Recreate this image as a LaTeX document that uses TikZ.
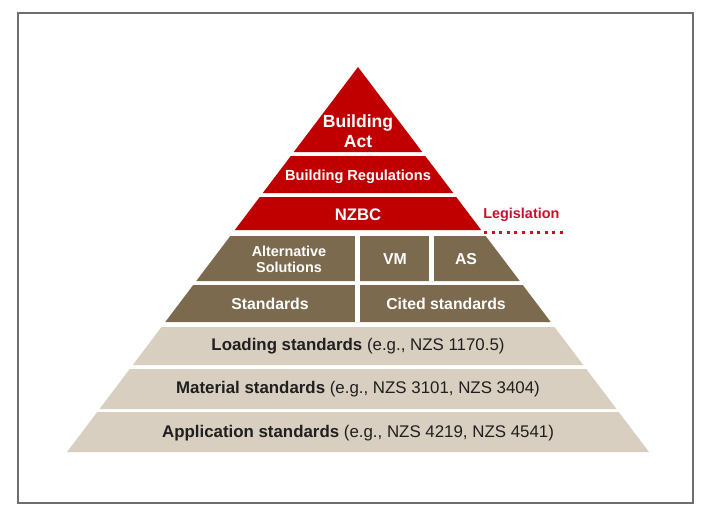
\documentclass[tikz,border=0pt]{standalone}
\usepackage{fontspec}
\setmainfont{Liberation Sans}
\definecolor{actred}{HTML}{C00000}
\definecolor{legred}{HTML}{C8102E}
\definecolor{docbrown}{HTML}{7B6A4E}
\definecolor{stdbeige}{HTML}{D8CFC0}
\definecolor{framegrey}{HTML}{6E6E6E}
\begin{document}
\begin{tikzpicture}[x=0.02cm,y=-0.02cm,
font=\fontsize{9}{11}\selectfont,
lbl/.style={text=white,font=\fontsize{9}{10}\selectfont\bfseries,align=center,inner sep=0pt},
std/.style={text=black!88,font=\fontsize{9.6}{11}\selectfont,inner sep=0pt},
gap/.style={draw=white,line width=0.1cm}]
\useasboundingbox (0,0) rectangle (710,522);
\fill[white] (0,0) rectangle (710,522);
\draw[framegrey,line width=0.04cm] (18,13) rectangle (693,503);
% pyramid bands: colour/top/bottom
\def\k{0.7558}
\foreach \col/\yt/\yb in {actred/67/152,actred/156/193,actred/197/230,
  docbrown/236/281,docbrown/285/322,stdbeige/327/365,stdbeige/369/409,stdbeige/412/452}
  \fill[\col] ({358-\k*(\yt-67)},\yt) -- ({358+\k*(\yt-67)},\yt)
    -- ({358+\k*(\yb-67)},\yb) -- ({358-\k*(\yb-67)},\yb) -- cycle;
\draw[gap] (357.5,236) -- (357.5,322);
\draw[gap] (431.5,236) -- (431.5,281);
\node[lbl,font=\fontsize{10}{11.4}\selectfont\bfseries] (act) at (358,131) {Building\\Act};
\node[lbl,font=\fontsize{8.3}{10}\selectfont\bfseries] (regs) at (358,177) {Building Regulations};
\node[lbl,font=\fontsize{9.5}{11}\selectfont\bfseries] (nzbc) at (358,215) {NZBC};
\node[lbl,font=\fontsize{8.2}{9.1}\selectfont\bfseries] (alt) at (289,259) {Alternative\\Solutions};
\node[lbl] (vm) at (395,259) {VM};
\node[lbl] (as) at (466,259) {AS};
\node[lbl] (std) at (270,304) {Standards};
\node[lbl] (cited) at (446,304) {Cited standards};
\node[std] (load) at (358,346) {\textbf{Loading standards} (e.g., NZS 1170.5)};
\node[std] (mat) at (358,389) {\textbf{Material standards} (e.g., NZS 3101, NZS 3404)};
\node[std] (app) at (358,433) {\textbf{Application standards} (e.g., NZS 4219, NZS 4541)};
\node[anchor=west,inner sep=0pt,text=legred,font=\fontsize{8.2}{10}\selectfont\bfseries] (leg) at (483,215) {Legislation};
\draw[legred,line width=0.06cm,dash pattern=on 0.06cm off 0.092cm] (484,232) -- (564,232);
\end{tikzpicture}
\end{document}
